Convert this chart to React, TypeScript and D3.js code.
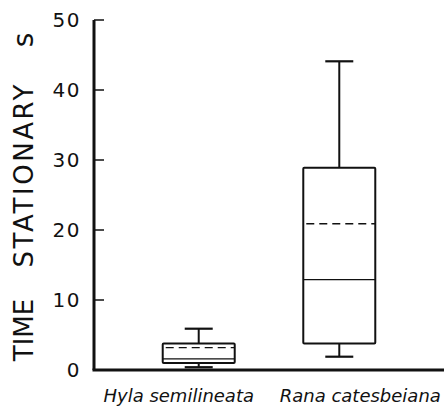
import React from "react";
import * as d3 from "d3";

// box summaries (seconds)
const species = ["Hyla semilineata", "Rana catesbeiana"];
const whiskerLow = [0.4, 1.9];
const quartile1 = [1.0, 3.8];
const medians = [1.6, 12.9];
const means = [3.2, 20.9];
const quartile3 = [3.8, 28.9];
const whiskerHigh = [5.9, 44.1];
const yTicks = [0, 10, 20, 30, 40, 50];
const labelShift = [-20, 21];

const W = 444;
const H = 411;
const margin = { left: 94, right: 0, top: 20, bottom: 41 };
const ink = "#111";
const font = "'DejaVu Sans', sans-serif";

export default function App() {
  const y = d3
    .scaleLinear()
    .domain([0, 50])
    .range([H - margin.bottom, margin.top]);
  const x = d3
    .scalePoint()
    .domain(species)
    .range([margin.left, W - margin.right])
    .padding(0.745);

  const boxW = 72;
  const capW = 28;

  return (
    <svg
      width={W}
      height={H}
      style={{ position: "absolute", left: 0, top: 0, background: "#fff" }}
    >
      {/* y axis title, in three pieces as in the original */}
      <text
        transform="rotate(-90)"
        x={-330}
        y={33}
        textAnchor="middle"
        fontFamily={font}
        fontSize={26}
        fill={ink}
      >
        TIME
      </text>
      <text
        transform="rotate(-90)"
        x={-176}
        y={33}
        textAnchor="middle"
        fontFamily={font}
        fontSize={26}
        fill={ink}
        textLength={183}
      >
        STATIONARY
      </text>
      <text
        transform="rotate(-90)"
        x={-40}
        y={33}
        textAnchor="middle"
        fontFamily={font}
        fontSize={28}
        fill={ink}
      >
        s
      </text>

      {/* y ticks */}
      {yTicks.map((t) => (
        <g key={t}>
          <line
            x1={margin.left}
            x2={margin.left + 10}
            y1={y(t)}
            y2={y(t)}
            stroke={ink}
            strokeWidth={1.5}
          />
          <text
            x={81}
            y={y(t)}
            dy="0.36em"
            textAnchor="end"
            fontFamily={font}
            fontSize={20}
            letterSpacing={1.5}
            fill={ink}
          >
            {t}
          </text>
        </g>
      ))}

      {/* axes */}
      <line
        x1={margin.left}
        x2={margin.left}
        y1={y(50)}
        y2={y(0)}
        stroke={ink}
        strokeWidth={3}
      />
      <line
        x1={margin.left - 1.5}
        x2={W}
        y1={y(0)}
        y2={y(0)}
        stroke={ink}
        strokeWidth={3}
      />

      {/* boxes */}
      {species.map((s, i) => {
        const cx = x(s) as number;
        return (
          <g key={s}>
            <line
              x1={cx}
              x2={cx}
              y1={y(whiskerHigh[i])}
              y2={y(quartile3[i])}
              stroke={ink}
              strokeWidth={2}
            />
            <line
              x1={cx}
              x2={cx}
              y1={y(quartile1[i])}
              y2={y(whiskerLow[i])}
              stroke={ink}
              strokeWidth={2}
            />
            <line
              x1={cx - capW / 2}
              x2={cx + capW / 2}
              y1={y(whiskerHigh[i])}
              y2={y(whiskerHigh[i])}
              stroke={ink}
              strokeWidth={2.2}
            />
            <line
              x1={cx - capW / 2}
              x2={cx + capW / 2}
              y1={y(whiskerLow[i])}
              y2={y(whiskerLow[i])}
              stroke={ink}
              strokeWidth={2.2}
            />
            <rect
              x={cx - boxW / 2}
              y={y(quartile3[i])}
              width={boxW}
              height={y(quartile1[i]) - y(quartile3[i])}
              fill="none"
              stroke={ink}
              strokeWidth={2}
              rx={1}
            />
            <line
              x1={cx - boxW / 2}
              x2={cx + boxW / 2}
              y1={y(medians[i])}
              y2={y(medians[i])}
              stroke={ink}
              strokeWidth={1.2}
            />
            <line
              x1={cx - boxW / 2 + 3}
              x2={cx + boxW / 2}
              y1={y(means[i])}
              y2={y(means[i])}
              stroke={ink}
              strokeWidth={1.4}
              strokeDasharray="8 5"
            />
            <text
              x={cx + labelShift[i]}
              y={402}
              textAnchor="middle"
              fontFamily={font}
              fontStyle="italic"
              fontSize={18}
              fill={ink}
            >
              {s}
            </text>
          </g>
        );
      })}
    </svg>
  );
}
